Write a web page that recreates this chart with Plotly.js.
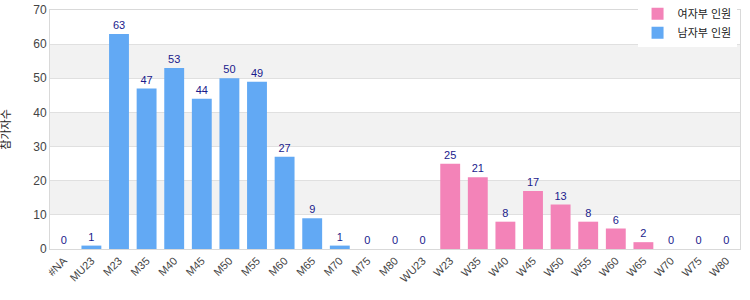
<!DOCTYPE html>
<html><head><meta charset="utf-8">
<script src="https://cdn.plot.ly/plotly-3.0.1.min.js"></script>
<style>html,body{margin:0;padding:0;background:#fff}#c{width:750px;height:300px}</style>
</head><body><div id="c"></div>
<script>
const categories = ["#NA","MU23","M23","M35","M40","M45","M50","M55","M60","M65","M70","M75","M80","WU23","W23","W35","W40","W45","W50","W55","W60","W65","W70","W75","W80"];
const menCats = ["#NA","MU23","M23","M35","M40","M45","M50","M55","M60","M65","M70","M75","M80"];
const menVals = [0,1,63,47,53,44,50,49,27,9,1,0,0];
const womenCats = ["WU23","W23","W35","W40","W45","W50","W55","W60","W65","W70","W75","W80"];
const womenVals = [0,25,21,8,17,13,8,6,2,0,0,0];
const yTicks = [0,10,20,30,40,50,60,70];
const womenName = "여자부 인원";
const menName = "남자부 인원";
const yTitle = "참가자수";

const font = "Liberation Sans, Arial, Noto Sans CJK KR, sans-serif";
const shapes = [];
for (let i = 0; i + 1 < yTicks.length; i++) {
  if (i % 2 === 1) shapes.push({type:"rect", xref:"paper", yref:"y", x0:0, x1:1, y0:yTicks[i], y1:yTicks[i+1], fillcolor:"#f2f2f2", line:{width:0}, layer:"below"});
}
const common = {type:"bar", width:0.72, textposition:"outside", texttemplate:"%{y}", cliponaxis:false,
  textfont:{color:"#1a1a8c", size:11, family:font}};
const data = [
  Object.assign({}, common, {name:womenName, x:womenCats, y:womenVals, marker:{color:"#f383b8"}}),
  Object.assign({}, common, {name:menName, x:menCats, y:menVals, marker:{color:"#62a9f4"}})
];
const layout = {
  width:750, height:300, margin:{l:50, r:10, t:10, b:51, autoexpand:false},
  paper_bgcolor:"#fff", plot_bgcolor:"rgba(0,0,0,0)",
  barmode:"overlay", showlegend:true,
  font:{family:font, size:11, color:"#444"},
  shapes: shapes,
  xaxis:{type:"category", categoryorder:"array", categoryarray:categories, tickangle:-45,
    showline:true, linecolor:"#d9d9d9", mirror:true, ticks:"", showgrid:false,
    tickfont:{size:11, color:"#444"}},
  yaxis:{range:[0,70], tickvals:yTicks, showline:true, linecolor:"#d9d9d9", mirror:true,
    gridcolor:"#e0e0e0", zeroline:false, tickfont:{size:12, color:"#444"},
    title:{text:yTitle, font:{size:11, color:"#222"}, standoff:22}},
  legend:{x:0.995, xanchor:"right", y:1.045, yanchor:"top", bgcolor:"#fff",
    font:{size:11, color:"#222"}, traceorder:"normal", itemwidth:30, tracegroupgap:0}
};
Plotly.newPlot("c", data, layout, {displayModeBar:false, staticPlot:true});
</script></body></html>
